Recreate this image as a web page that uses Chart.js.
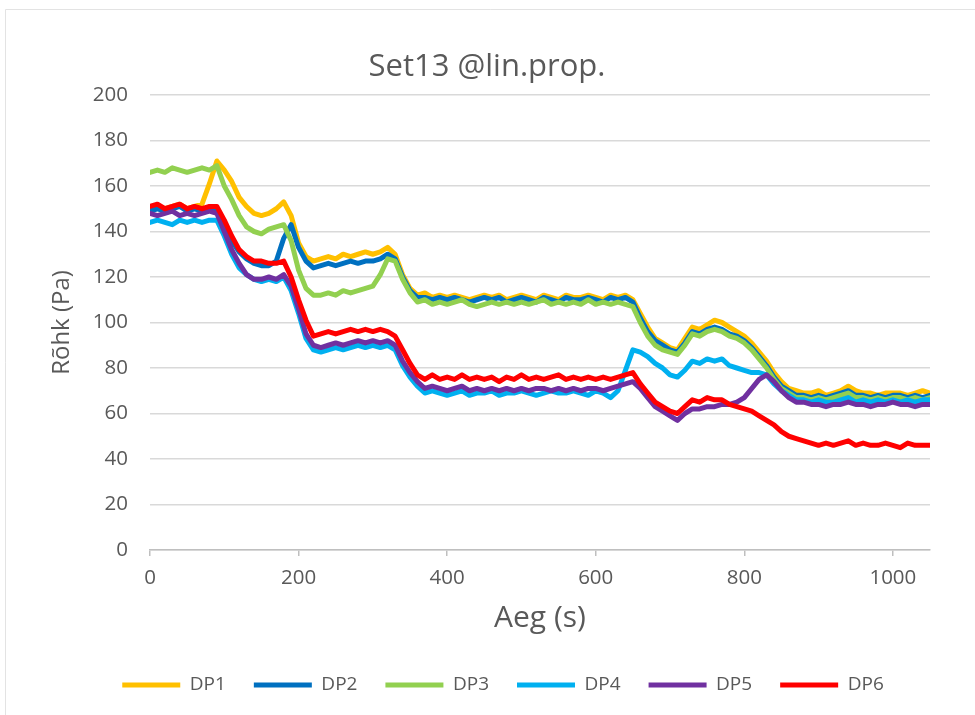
<!DOCTYPE html>
<html>
<head>
<meta charset="utf-8">
<script src="https://cdn.jsdelivr.net/npm/chart.js@4/dist/chart.umd.min.js"></script>
<style>
  html, body { margin: 0; padding: 0; background: #ffffff; }
  #wrap { width: 975px; height: 715px; position: relative; }
</style>
</head>
<body>
<div id="wrap"><canvas id="c" width="975" height="715"></canvas></div>
<script>
// Time axis (s)
const times = [
  0, 10, 20, 30, 40, 50, 60, 70, 80, 90,
  100, 110, 120, 130, 140, 150, 160, 170, 180, 190,
  200, 210, 220, 230, 240, 250, 260, 270, 280, 290,
  300, 310, 320, 330, 340, 350, 360, 370, 380, 390,
  400, 410, 420, 430, 440, 450, 460, 470, 480, 490,
  500, 510, 520, 530, 540, 550, 560, 570, 580, 590,
  600, 610, 620, 630, 640, 650, 660, 670, 680, 690,
  700, 710, 720, 730, 740, 750, 760, 770, 780, 790,
  800, 810, 820, 830, 840, 850, 860, 870, 880, 890,
  900, 910, 920, 930, 940, 950, 960, 970, 980, 990,
  1000, 1010, 1020, 1030, 1040, 1050
];

// Pressure readings (Pa) per measuring point
const dp1 = [
  150, 151, 150, 151, 152, 150, 151, 152, 161, 171,
  167, 162, 155, 151, 148, 147, 148, 150, 153, 147,
  135, 129, 127, 128, 129, 128, 130, 129, 130, 131,
  130, 131, 133, 130, 121, 115, 112, 113, 111, 112,
  111, 112, 111, 110, 111, 112, 111, 112, 110, 111,
  112, 111, 110, 112, 111, 110, 112, 111, 111, 112,
  111, 110, 112, 111, 112, 110, 104, 98, 93, 91,
  89, 88, 93, 98, 97, 99, 101, 100, 98, 96,
  94, 91, 87, 83, 78, 74, 71, 70, 69, 69,
  70, 68, 69, 70, 72, 70, 69, 69, 68, 69,
  69, 69, 68, 69, 70, 69
];
const dp2 = [
  149, 150, 149, 150, 151, 149, 150, 149, 150, 149,
  143, 136, 131, 128, 126, 125, 125, 127, 137, 143,
  133, 127, 124, 125, 126, 125, 126, 127, 126, 127,
  127, 128, 130, 128, 120, 114, 111, 111, 110, 111,
  110, 111, 110, 109, 110, 111, 110, 111, 109, 110,
  111, 110, 109, 111, 110, 109, 111, 110, 110, 111,
  110, 109, 111, 110, 111, 109, 102, 96, 92, 90,
  88, 87, 91, 96, 95, 97, 98, 97, 95, 94,
  92, 89, 85, 81, 76, 72, 70, 68, 68, 67,
  68, 67, 68, 69, 70, 68, 68, 67, 68, 67,
  68, 68, 67, 68, 67, 68
];
const dp3 = [
  166, 167, 166, 168, 167, 166, 167, 168, 167, 169,
  160, 154, 147, 142, 140, 139, 141, 142, 143, 136,
  123, 115, 112, 112, 113, 112, 114, 113, 114, 115,
  116, 121, 128, 127, 119, 113, 109, 110, 108, 109,
  108, 109, 110, 108, 107, 108, 109, 108, 109, 108,
  109, 108, 109, 110, 108, 109, 108, 109, 108, 110,
  108, 109, 108, 109, 108, 107, 100, 94, 90, 88,
  87, 86, 90, 95, 94, 96, 97, 96, 94, 93,
  91, 88, 84, 80, 75, 71, 69, 67, 67, 66,
  67, 66, 67, 68, 69, 67, 67, 66, 67, 66,
  67, 67, 66, 67, 66, 67
];
const dp4 = [
  144, 145, 144, 143, 145, 144, 145, 144, 145, 145,
  138, 130, 124, 121, 119, 118, 119, 118, 120, 114,
  104, 93, 88, 87, 88, 89, 88, 89, 90, 89,
  90, 89, 90, 88, 81, 76, 72, 69, 70, 69,
  68, 69, 70, 68, 69, 69, 70, 68, 69, 69,
  70, 69, 68, 69, 70, 69, 69, 70, 69, 68,
  70, 69, 67, 70, 79, 88, 87, 85, 82, 80,
  77, 76, 79, 83, 82, 84, 83, 84, 81, 80,
  79, 78, 78, 77, 73, 70, 68, 66, 66, 65,
  66, 65, 65, 66, 67, 65, 66, 65, 66, 65,
  66, 65, 66, 65, 66, 66
];
const dp5 = [
  148, 147, 148, 149, 147, 148, 147, 148, 149, 148,
  140, 132, 126, 121, 119, 119, 120, 119, 121, 116,
  106, 95, 90, 89, 90, 91, 90, 91, 92, 91,
  92, 91, 92, 90, 83, 78, 74, 71, 72, 71,
  70, 71, 72, 70, 71, 70, 71, 70, 71, 70,
  71, 70, 71, 71, 70, 71, 70, 71, 70, 71,
  71, 70, 71, 72, 73, 74, 71, 67, 63, 61,
  59, 57, 60, 62, 62, 63, 63, 64, 64, 65,
  67, 71, 75, 77, 74, 70, 67, 65, 65, 64,
  64, 63, 64, 64, 65, 64, 64, 63, 64, 64,
  65, 64, 64, 63, 64, 64
];
const dp6 = [
  151, 152, 150, 151, 152, 150, 151, 150, 151, 151,
  145, 138, 132, 129, 127, 127, 126, 126, 127, 120,
  110, 101, 94, 95, 96, 95, 96, 97, 96, 97,
  96, 97, 96, 94, 88, 82, 77, 75, 77, 75,
  76, 75, 77, 75, 76, 75, 76, 74, 76, 75,
  77, 75, 76, 75, 76, 77, 75, 76, 75, 76,
  75, 76, 75, 76, 77, 78, 73, 69, 65, 63,
  61, 60, 63, 66, 65, 67, 66, 66, 64, 63,
  62, 61, 59, 57, 55, 52, 50, 49, 48, 47,
  46, 47, 46, 47, 48, 46, 47, 46, 46, 47,
  46, 45, 47, 46, 46, 46
];

const seriesNames = ['DP1', 'DP2', 'DP3', 'DP4', 'DP5', 'DP6'];
const seriesValues = [dp1, dp2, dp3, dp4, dp5, dp6];
const seriesColors = ['#FFC000', '#0070C0', '#92D050', '#00B0F0', '#7030A0', '#FF0000'];

const xTicks = [0, 200, 400, 600, 800, 1000];

const FONT = "'Open Sans', 'Liberation Sans', sans-serif";
const TEXT = '#595959';

const datasets = seriesNames.map((name, i) => ({
  label: name,
  data: times.map((t, k) => ({ x: t, y: seriesValues[i][k] })),
  borderColor: seriesColors[i],
  backgroundColor: seriesColors[i],
  borderWidth: 5,
  borderCapStyle: 'round',
  borderJoinStyle: 'round',
  pointRadius: 0,
  tension: 0,
  // later series are painted over earlier ones
  order: seriesNames.length - 1 - i
}));

// White page with a faint frame line along the top and left edges
const frame = {
  id: 'frame',
  beforeDraw(chart) {
    const ctx = chart.ctx;
    ctx.save();
    ctx.fillStyle = '#ffffff';
    ctx.fillRect(0, 0, chart.width, chart.height);
    ctx.strokeStyle = '#e3e3e3';
    ctx.lineWidth = 1;
    ctx.beginPath();
    ctx.moveTo(5.5, chart.height);
    ctx.lineTo(5.5, 9.5);
    ctx.lineTo(chart.width, 9.5);
    ctx.stroke();
    ctx.restore();
  }
};

// Centre the title and legend on the full page width
const centreBoxes = {
  id: 'centreBoxes',
  afterLayout(chart) {
    const dx = 22;
    [chart.titleBlock, chart.legend].forEach(b => {
      if (b) { b.left += dx; b.right += dx; }
    });
    if (chart.legend) { chart.legend.left += 16; chart.legend.right += 16; }
  }
};

new Chart(document.getElementById('c'), {
  type: 'line',
  data: { datasets },
  plugins: [frame, centreBoxes],
  options: {
    responsive: false,
    animation: false,
    events: [],
    layout: { padding: { left: 0, right: 45, top: 0, bottom: 10.5 } },
    plugins: {
      title: {
        display: true,
        text: 'Set13 @lin.prop.',
        color: TEXT,
        font: { family: FONT, size: 31, weight: 'normal' },
        padding: { top: 48.4, bottom: 9.4 }
      },
      legend: {
        position: 'bottom',
        labels: {
          usePointStyle: true,
          pointStyle: 'line',
          pointStyleWidth: 58,
          boxHeight: 19,
          padding: 28,
          color: TEXT,
          font: { family: FONT, size: 19 },
          sort: (a, b) => a.datasetIndex - b.datasetIndex
        }
      },
      tooltip: { enabled: false }
    },
    scales: {
      x: {
        type: 'linear',
        min: 0,
        max: 1050,
        afterFit(scale) { scale.height = 97.5; },
        afterBuildTicks(scale) { scale.ticks = xTicks.map(v => ({ value: v })); },
        ticks: {
          color: TEXT,
          font: { family: FONT, size: 20.5 },
          padding: 9.7,
          maxRotation: 0,
          callback: v => String(v)
        },
        grid: {
          display: true,
          drawOnChartArea: false,
          drawTicks: true,
          tickLength: 6,
          color: '#bfbfbf',
          lineWidth: 1.5
        },
        border: { display: true, color: '#bfbfbf', width: 1.5 },
        title: {
          display: true,
          text: 'Aeg (s)',
          color: TEXT,
          font: { family: FONT, size: 30 },
          padding: { top: 0, bottom: 11.5 }
        }
      },
      y: {
        min: 0,
        max: 200,
        afterFit(scale) { scale.width = 150; },
        ticks: {
          stepSize: 20,
          color: TEXT,
          font: { family: FONT, size: 20.5 },
          padding: 22,
          callback: v => String(v)
        },
        grid: {
          color: '#d9d9d9',
          lineWidth: 1.5,
          drawTicks: false
        },
        border: { display: false },
        title: {
          display: true,
          text: 'Rõhk (Pa)',
          color: TEXT,
          font: { family: FONT, size: 24 },
          padding: { top: 47.6, bottom: 0 }
        }
      }
    }
  }
});
</script>
</body>
</html>
